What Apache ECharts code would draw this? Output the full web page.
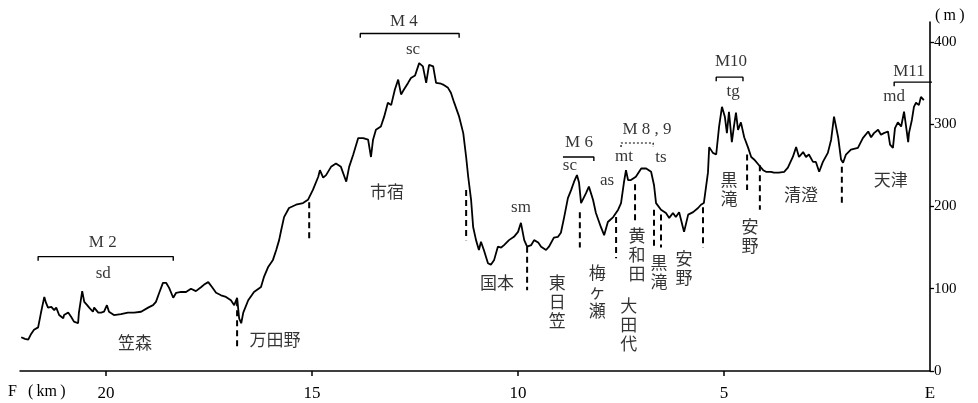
<!DOCTYPE html>
<html>
<head>
<meta charset="utf-8">
<script src="https://cdn.jsdelivr.net/npm/echarts@6/dist/echarts.min.js"></script>
<style>
  html, body { margin: 0; padding: 0; background: #fff; }
  #chart { width: 978px; height: 403px; }
</style>
</head>
<body>
<div id="chart"></div>
<script>
// Longitudinal profile F–E: distance from E (km) and elevation (m)
const profileKm = [
  22.06, 21.97, 21.89, 21.82, 21.75, 21.65, 21.58, 21.50, 21.46, 21.41,
  21.33, 21.26, 21.21, 21.14, 21.04, 21.02, 20.92, 20.85, 20.78, 20.68,
  20.66, 20.58, 20.53, 20.46, 20.41, 20.32, 20.29, 20.19, 20.12, 20.05,
  19.98, 19.93, 19.81, 19.64, 19.47, 19.32, 19.15, 18.98, 18.86, 18.79,
  18.71, 18.62, 18.54, 18.47, 18.37, 18.30, 18.18, 18.06, 17.94, 17.82,
  17.69, 17.62, 17.52, 17.43, 17.33, 17.21, 17.09, 16.97, 16.89, 16.82,
  16.77, 16.72, 16.67, 16.55, 16.41, 16.24, 16.17, 16.07, 15.95, 15.87,
  15.80, 15.75, 15.68, 15.56, 15.39, 15.22, 15.10, 14.98, 14.85, 14.81,
  14.73, 14.66, 14.54, 14.42, 14.30, 14.17, 14.10, 14.00, 13.88, 13.76,
  13.64, 13.57, 13.52, 13.45, 13.33, 13.25, 13.16, 13.08, 12.99, 12.91,
  12.84, 12.77, 12.67, 12.60, 12.50, 12.40, 12.31, 12.23, 12.16, 12.06,
  11.99, 11.87, 11.82, 11.70, 11.63, 11.55, 11.43, 11.33, 11.26, 11.21,
  11.14, 11.09, 11.02, 10.95, 10.90, 10.83, 10.73, 10.66, 10.58, 10.49,
  10.41, 10.34, 10.22, 10.10, 10.00, 9.93, 9.85, 9.78, 9.68, 9.61,
  9.51, 9.44, 9.32, 9.25, 9.13, 9.03, 8.96, 8.88, 8.79, 8.71,
  8.64, 8.57, 8.52, 8.47, 8.35, 8.28, 8.18, 8.11, 7.99, 7.91,
  7.82, 7.69, 7.57, 7.50, 7.43, 7.38, 7.33, 7.26, 7.14, 7.01,
  6.89, 6.77, 6.70, 6.65, 6.53, 6.41, 6.33, 6.24, 6.17, 6.09,
  6.00, 5.97, 5.87, 5.75, 5.63, 5.56, 5.49, 5.39, 5.36, 5.32,
  5.27, 5.19, 5.12, 5.05, 4.98, 4.93, 4.88, 4.81, 4.76, 4.71,
  4.66, 4.59, 4.51, 4.42, 4.34, 4.27, 4.15, 4.05, 3.98, 3.86,
  3.79, 3.67, 3.54, 3.45, 3.33, 3.25, 3.18, 3.08, 3.01, 2.94,
  2.84, 2.77, 2.69, 2.60, 2.48, 2.40, 2.33, 2.23, 2.16, 2.11,
  2.04, 1.92, 1.75, 1.63, 1.50, 1.43, 1.36, 1.26, 1.19, 1.12,
  1.02, 0.97, 0.90, 0.85, 0.78, 0.70, 0.63, 0.58, 0.53, 0.51,
  0.44, 0.39, 0.34, 0.27, 0.22, 0.15
];
const profileElev = [
  41, 39, 38, 45, 50, 53, 71, 90, 83, 77,
  78, 74, 77, 68, 64, 68, 71, 66, 60, 58,
  71, 97, 84, 80, 77, 72, 77, 71, 71, 72,
  80, 72, 68, 69, 71, 71, 72, 77, 80, 84,
  95, 107, 107, 101, 89, 95, 96, 96, 100, 97,
  102, 105, 108, 102, 95, 92, 90, 86, 80, 89,
  64, 58, 71, 86, 96, 102, 114, 126, 135, 147,
  159, 171, 187, 198, 202, 204, 208, 220, 236, 244,
  235, 238, 248, 252, 248, 230, 248, 263, 283, 283,
  281, 260, 281, 293, 297, 309, 326, 323, 342, 354,
  336, 342, 350, 356, 359, 374, 370, 350, 372, 370,
  350, 349, 348, 344, 338, 326, 309, 289, 260, 236,
  208, 175, 159, 147, 157, 147, 131, 129, 135, 151,
  150, 153, 159, 163, 169, 180, 159, 151, 153, 159,
  156, 151, 147, 151, 162, 163, 168, 187, 210, 220,
  230, 238, 229, 204, 216, 224, 208, 192, 175, 165,
  181, 187, 196, 204, 229, 244, 232, 232, 236, 246,
  246, 242, 226, 204, 196, 192, 186, 192, 187, 193,
  175, 169, 190, 193, 198, 202, 204, 241, 272, 271,
  265, 263, 297, 321, 309, 289, 315, 278, 297, 314,
  293, 302, 284, 272, 260, 257, 250, 244, 242, 242,
  241, 241, 242, 247, 260, 272, 260, 266, 260, 263,
  254, 254, 242, 254, 265, 281, 309, 284, 257, 253,
  263, 269, 271, 283, 291, 284, 289, 293, 287, 289,
  291, 275, 271, 295, 302, 297, 315, 297, 278, 289,
  305, 321, 326, 323, 333, 329
];

// Unit boundaries (dashed verticals): position, upper and lower elevation
const boundaryKm     = [16.82, 15.07, 11.26, 9.78, 8.50, 7.62, 7.16, 6.70, 6.53, 5.51, 4.44, 4.13, 2.14];
const boundaryTop    = [86, 205, 220, 151, 193, 187, 227, 196, 190, 199, 263, 250, 248];
const boundaryBottom = [29, 159, 159, 98, 150, 137, 181, 150, 150, 150, 220, 196, 204];

// Section brackets M2 … M11
const bracketFrom  = [21.65, 13.83, 8.91, 7.50, 5.19, 0.87];
const bracketTo    = [18.37, 11.43, 8.16, 6.72, 4.54, -0.05];
const bracketLevel = [139, 410, 260, 277, 357, 351];
const hookLeft     = [true, true, false, true, true, true];
const hookRight    = [true, true, true, true, true, false];

// Section and lithology annotations
const annoText = ['M 2', 'sd', 'M 4', 'sc', 'M 6', 'sc', 'M 8 , 9', 'mt', 'ts', 'M10', 'tg', 'M11', 'md', 'sm', 'as'];
const annoKm   = [20.08, 20.07, 12.77, 12.55, 8.52, 8.74, 6.87, 7.43, 6.53, 4.83, 4.78, 0.51, 0.87, 9.93, 7.84];
const annoElev = [156, 119, 424, 390, 277, 250, 293, 260, 259, 376, 339, 364, 333, 198, 232];

// Place names
const placeText = ['笠森', '万田野', '市宿', '国本', '東日笠', '梅ヶ瀬', '黄和田', '大田代', '黒滝', '安野', '黒滝', '安野', '清澄', '天津'];
const placeVertical = [false, false, false, false, true, true, true, true, true, true, true, true, false, false];
const placeKm   = [19.30, 15.90, 13.18, 10.51, 9.05, 8.08, 7.11, 7.31, 6.58, 5.97, 4.88, 4.37, 3.13, 0.95];
const placeElev = [35, 38, 218, 107, 84, 96, 141, 56, 120, 125, 221, 164, 214, 232];

// Axis ticks
const xTicks = [20, 15, 10, 5];
const xLabels = [20, 15, 10, 5, 0];
const yTicks = [0, 100, 200, 300, 400];

const SERIF = "'Liberation Serif', 'DejaVu Serif', serif";
const CJK = "'Noto Sans CJK JP', 'Noto Sans', sans-serif";
const dottedBracket = 3;
const hook = 5;

const profileData = profileKm.map((k, i) => [k, profileElev[i]]);

const boundaryData = [];
boundaryKm.forEach((k, i) => {
  boundaryData.push([k, boundaryTop[i]], [k, boundaryBottom[i]], [k, '-']);
});

function bracketPoints(i) {
  const pts = [];
  if (hookLeft[i]) pts.push([bracketFrom[i], bracketLevel[i] - hook]);
  pts.push([bracketFrom[i], bracketLevel[i]], [bracketTo[i], bracketLevel[i]]);
  if (hookRight[i]) pts.push([bracketTo[i], bracketLevel[i] - hook]);
  pts.push([bracketTo[i], '-']);
  return pts;
}
const solidBrackets = [];
const dottedBrackets = [];
bracketFrom.forEach((_, i) => {
  (i === dottedBracket ? dottedBrackets : solidBrackets).push(...bracketPoints(i));
});

const annoData = annoText.map((t, i) => ({ name: t, value: [annoKm[i], annoElev[i]] }));
const placeData = placeText.map((t, i) => ({
  name: placeVertical[i] ? t.split('').join('\n') : t,
  value: [placeKm[i], placeElev[i]]
}));

const chart = echarts.init(document.getElementById('chart'), null, { renderer: 'canvas' });
chart.setOption({
  animation: false,
  backgroundColor: '#fff',
  grid: { left: 20, right: 48, top: 22, bottom: 32, containLabel: false },
  xAxis: {
    type: 'value',
    inverse: true,
    min: 0,
    max: 22.09,
    axisLine: { show: true, lineStyle: { color: '#000', width: 1.5 } },
    axisTick: { show: true, customValues: xTicks, length: 5, lineStyle: { color: '#000', width: 1.5 } },
    axisLabel: {
      customValues: xLabels,
      formatter: v => (v === 0 ? 'E' : String(v)),
      color: '#000', fontFamily: SERIF, fontSize: 17, margin: 14
    },
    splitLine: { show: false }
  },
  yAxis: {
    type: 'value',
    position: 'right',
    min: 0,
    max: 424,
    axisLine: { show: true, lineStyle: { color: '#000', width: 1.6 } },
    axisTick: { show: true, customValues: yTicks, length: 4, lineStyle: { color: '#000', width: 1.3 } },
    axisLabel: { customValues: yTicks, color: '#000', fontFamily: SERIF, fontSize: 15, margin: 4 },
    splitLine: { show: false }
  },
  graphic: [
    { type: 'text', left: 8, top: 384, style: { text: 'F', font: "16px " + SERIF, fill: '#000' } },
    { type: 'text', left: 28, top: 384, style: { text: '(\u2009km\u2009)', font: "16px " + SERIF, fill: '#000' } },
    { type: 'text', left: 935, top: 8, style: { text: '(\u2009m\u2009)', font: "16px " + SERIF, fill: '#000' } }
  ],
  series: [
    {
      name: 'profile',
      type: 'line',
      data: profileData,
      showSymbol: false,
      lineStyle: { color: '#000', width: 1.8 },
      z: 5
    },
    {
      name: 'boundaries',
      type: 'line',
      data: boundaryData,
      showSymbol: false,
      connectNulls: false,
      lineStyle: { color: '#000', width: 2, type: [6, 4] },
      z: 4
    },
    {
      name: 'brackets',
      type: 'line',
      data: solidBrackets,
      showSymbol: false,
      connectNulls: false,
      clip: false,
      lineStyle: { color: '#000', width: 1.4 },
      z: 4
    },
    {
      name: 'brackets-dotted',
      type: 'line',
      data: dottedBrackets,
      showSymbol: false,
      connectNulls: false,
      lineStyle: { color: '#000', width: 1.2, type: [2, 2] },
      z: 4
    },
    {
      name: 'annotations',
      type: 'scatter',
      data: annoData,
      symbolSize: 0,
      clip: false,
      label: {
        show: true, position: 'inside', formatter: p => p.name,
        color: '#000', fontFamily: SERIF, fontSize: 17
      },
      z: 6
    },
    {
      name: 'places',
      type: 'scatter',
      data: placeData,
      symbolSize: 0,
      clip: false,
      label: {
        show: true, position: 'inside', formatter: p => p.name,
        color: '#000', fontFamily: CJK, fontSize: 17, lineHeight: 19, align: 'center'
      },
      z: 6
    }
  ]
});
</script>
</body>
</html>
